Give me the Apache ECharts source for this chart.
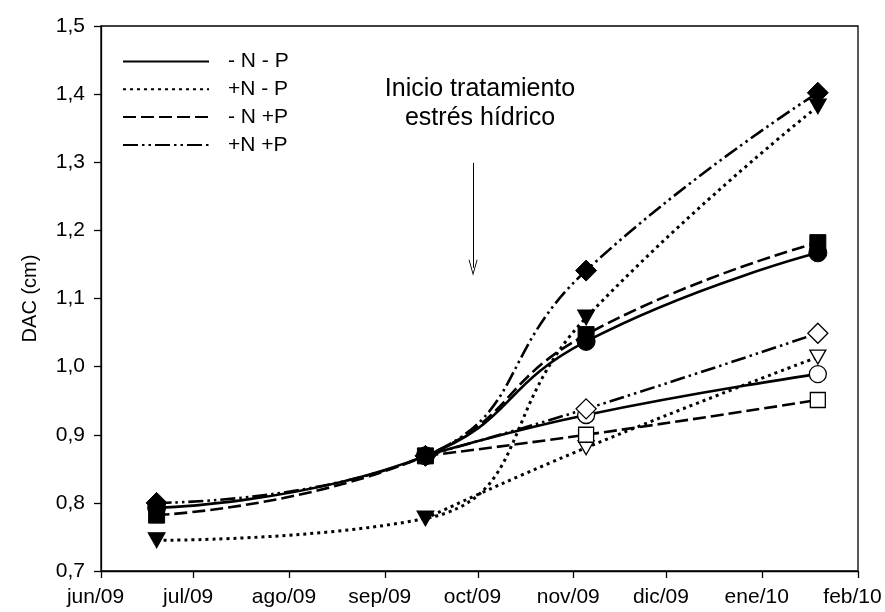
<!DOCTYPE html>
<html>
<head>
<meta charset="utf-8">
<script src="https://cdn.jsdelivr.net/npm/echarts@6/dist/echarts.min.js"></script>
<style>html,body{margin:0;padding:0;background:#fff}#c{width:885px;height:612px}</style>
</head>
<body>
<div id="c"></div>
<script>
// Sampling dates
var dates = ['2009-06-19', '2009-09-14', '2009-11-05', '2010-01-19'];
// Month tick labels
var monthLabels = ['ene','feb','mar','abr','may','jun','jul','ago','sep','oct','nov','dic'];
// Legend names
var treatments = ['- N - P', '+N - P', '- N +P', '+N +P'];
// Filled-marker series (all four dates)
var nPfill  = [0.793, 0.869, 1.037, 1.167];   // -N -P circle
var NpFill  = [0.745, 0.777, 1.072, 1.382];   // +N -P triangle
var nPPfill = [0.782, 0.869, 1.047, 1.182];   // -N +P square
var NPfill  = [0.800, 0.869, 1.141, 1.402];   // +N +P diamond
// Open-marker series (from sep onward)
var nPopen  = [0.869, 0.929, 0.989];
var NpOpen  = [0.777, 0.881, 1.014];
var nPPopen = [0.869, 0.900, 0.951];
var NPopen  = [0.869, 0.938, 1.049];
// Arrow annotation
var annotation = 'Inicio tratamiento\nestrés hídrico';
var arrowDate = '2009-09-29T10:00:00';
var arrowY = [1.299, 1.145];

var FONT = 'Liberation Sans, Arial, sans-serif';
var styles = [
  {type: 'solid', width: 2.6},
  {type: [3, 4], width: 3, cap: 'butt'},
  {type: [13, 5], width: 2.6},
  {type: [15, 4, 2.5, 4, 2.5, 4], width: 2.6}
];
var symbols = ['circle', 'triangle', 'rect', 'diamond'];
var sizes = [[18, 18], [17, 15], [16, 16], [21, 21]];
var rot = [0, 180, 0, 0];
var fills = [nPfill, NpFill, nPPfill, NPfill];
var opens = [nPopen, NpOpen, nPPopen, NPopen];

var series = [];
treatments.forEach(function (name, i) {
  series.push({
    name: name, type: 'line', data: [], symbol: 'none',
    itemStyle: {color: '#000', opacity: 0},
    lineStyle: Object.assign({color: '#000'}, styles[i])
  });
});
treatments.forEach(function (name, i) {
  series.push({
    name: name + ' f', type: 'line', smooth: 0.5,
    data: fills[i].map(function (v, k) { return [dates[k], v]; }),
    symbol: symbols[i], symbolSize: sizes[i], symbolRotate: rot[i],
    itemStyle: {color: '#000', borderColor: '#000', borderWidth: 1},
    lineStyle: Object.assign({color: '#000'}, styles[i]),
    z: 3
  });
  series.push({
    name: name + ' o', type: 'line', smooth: 0.5,
    data: opens[i].map(function (v, k) {
      var d = {value: [dates[k + 1], v]};
      if (k === 0) d.symbol = 'none';
      return d;
    }),
    symbol: symbols[i], symbolSize: [sizes[i][0] - 1, sizes[i][1] - 1], symbolRotate: rot[i],
    itemStyle: {color: '#fff', borderColor: '#000', borderWidth: 1.3},
    lineStyle: Object.assign({color: '#000'}, styles[i]),
    z: 3
  });
});
series.push({
  type: 'line', data: [], silent: true,
  markLine: {
    silent: true, animation: false,
    symbol: ['none', 'path://M5,0 L10,12 L9,12 L5,2.5 L1,12 L0,12 Z'],
    symbolSize: [9, 16],
    label: {show: false},
    lineStyle: {color: '#000', width: 1, type: 'solid'},
    data: [[{coord: [arrowDate, arrowY[0]]}, {coord: [arrowDate, arrowY[1]]}]]
  }
});

var chart = echarts.init(document.getElementById('c'), null, {renderer: 'canvas'});
chart.setOption({
  animation: false,
  backgroundColor: '#fff',
  textStyle: {fontFamily: FONT},
  grid: {left: 101, right: 27, top: 26, bottom: 41, show: true, borderColor: '#000', borderWidth: 1.3,
         containLabel: false, outerBoundsMode: 'none'},
  legend: {
    data: treatments, orient: 'vertical', left: 117, top: 46,
    itemWidth: 86, itemHeight: 14, itemGap: 6.8,
    itemStyle: {opacity: 0},
    textStyle: {fontSize: 21, lineHeight: 21, color: '#000', padding: [0, 0, 0, 14], fontFamily: FONT}
  },
  xAxis: {
    type: 'time', min: '2009-06-01', max: '2010-02-01',
    minInterval: 28 * 86400000, maxInterval: 31 * 86400000,
    splitLine: {show: false},
    axisLine: {lineStyle: {color: '#000', width: 1.3}},
    axisTick: {show: true, length: 7, lineStyle: {color: '#000', width: 1.3}},
    axisLabel: {
      color: '#000', fontSize: 21, margin: 16, showMinLabel: true, showMaxLabel: true,
      padding: [0, 11, 0, 0], fontFamily: FONT,
      formatter: function (val) {
        var d = new Date(val);
        return monthLabels[d.getMonth()] + '/' + String(d.getFullYear()).slice(2);
      }
    }
  },
  yAxis: {
    type: 'value', min: 0.7, max: 1.5, interval: 0.1,
    name: 'DAC (cm)', nameLocation: 'middle', nameGap: 61,
    nameTextStyle: {fontSize: 20, color: '#000', fontFamily: FONT},
    splitLine: {show: false},
    axisLine: {show: true, lineStyle: {color: '#000', width: 1.3}},
    axisTick: {show: true, length: 7, lineStyle: {color: '#000', width: 1.3}},
    axisLabel: {
      color: '#000', fontSize: 21, margin: 16, fontFamily: FONT,
      formatter: function (v) { return v.toFixed(1).replace('.', ','); }
    }
  },
  graphic: [
    {type: 'text', x: 480, y: 74.5, silent: true,
     style: {text: annotation, fontSize: 25, lineHeight: 29, fill: '#000', align: 'center',
             verticalAlign: 'top', fontFamily: FONT}}
  ],
  series: series
});
</script>
</body>
</html>
